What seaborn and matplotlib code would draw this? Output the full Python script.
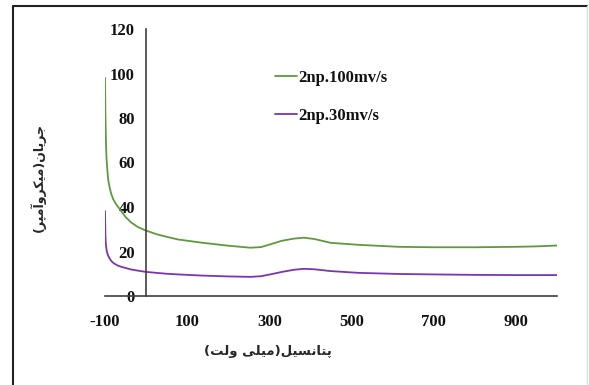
import numpy as np
import pandas as pd
import seaborn as sns
import matplotlib.pyplot as plt
from matplotlib.lines import Line2D

# potential (mV) and current (uA)
potencial = [-100, -99, -98, -97, -96, -94, -92, -89, -85, -80, -74, -68, -60, -50, -36, -20, -3, 25, 50, 78,
             134, 200, 254, 280, 302, 330, 360, 384, 410, 449, 517, 615, 700, 800, 898, 950, 1000]
corriente_100 = [98, 82, 72, 65, 61, 56, 52, 49, 46, 43.5, 41.5, 40, 38, 35.5, 33, 31, 29.6, 27.8, 26.6, 25.4,
                 24.0, 22.6, 21.7, 22.0, 23.2, 24.8, 25.8, 26.2, 25.6, 23.9, 23.0, 22.1, 21.9, 21.9, 22.1, 22.3, 22.7]
corriente_30 = [38.2, 27, 23.5, 21.8, 20.5, 19, 18, 17, 15.8, 14.9, 14.2, 13.6, 13.1, 12.6, 11.9, 11.4, 10.9, 10.4, 10.0, 9.7,
                9.2, 8.8, 8.6, 8.9, 9.7, 10.8, 11.8, 12.2, 12.0, 11.2, 10.4, 9.9, 9.7, 9.5, 9.4, 9.4, 9.4]
series = ['2np.100mv/s', '2np.30mv/s']
colores = ['#5E9A3C', '#7A36B2']
xticks = [-100, 100, 300, 500, 700, 900]
yticks = [0, 20, 40, 60, 80, 100, 120]
xlabel = 'پتانسیل(میلی ولت)'
ylabel = 'جریان(میکروآمپر)'

# formas de presentacion (aislada, final, inicial, media) para dibujar texto persa
FORMAS = {
    'ا': ('\uFE8D', '\uFE8E', None, None),
    'آ': ('\uFE81', '\uFE82', None, None),
    'ر': ('\uFEAD', '\uFEAE', None, None),
    'و': ('\uFEED', '\uFEEE', None, None),
    'پ': ('\uFB56', '\uFB57', '\uFB58', '\uFB59'),
    'ت': ('\uFE95', '\uFE96', '\uFE97', '\uFE98'),
    'ن': ('\uFEE5', '\uFEE6', '\uFEE7', '\uFEE8'),
    'س': ('\uFEB1', '\uFEB2', '\uFEB3', '\uFEB4'),
    'ی': ('\uFBFC', '\uFBFD', '\uFBFE', '\uFBFF'),
    'ل': ('\uFEDD', '\uFEDE', '\uFEDF', '\uFEE0'),
    'م': ('\uFEE1', '\uFEE2', '\uFEE3', '\uFEE4'),
    'ج': ('\uFE9D', '\uFE9E', '\uFE9F', '\uFEA0'),
    'ک': ('\uFB8E', '\uFB8F', '\uFB90', '\uFB91'),
}


def persa(texto):
    out = []
    for i, ch in enumerate(texto):
        if ch not in FORMAS:
            out.append(ch)
            continue
        prev = texto[i - 1] if i > 0 else ''
        nxt = texto[i + 1] if i + 1 < len(texto) else ''
        une_prev = prev in FORMAS and FORMAS[prev][2] is not None
        une_next = nxt in FORMAS and FORMAS[ch][2] is not None
        iso, fin, ini, med = FORMAS[ch]
        if une_prev and une_next:
            out.append(med)
        elif une_prev:
            out.append(fin)
        elif une_next:
            out.append(ini)
        else:
            out.append(iso)
    espejo = {'(': ')', ')': '('}
    return ''.join(espejo.get(c, c) for c in reversed(out))


df = pd.DataFrame({
    'x': potencial * 2,
    'y': corriente_100 + corriente_30,
    'serie': [series[0]] * len(potencial) + [series[1]] * len(potencial),
})

sns.set_style('white')
plt.rcParams['font.family'] = ['Liberation Serif', 'DejaVu Sans']
plt.rcParams['axes.unicode_minus'] = False

fig = plt.figure(figsize=(5.89, 3.85), dpi=100)
ax = fig.add_axes([105 / 589, 89 / 385, 452 / 589, 267 / 385])

sns.lineplot(data=df, x='x', y='y', hue='serie', palette=colores, linewidth=1.3,
             sort=False, estimator=None, ax=ax, legend=False)

ax.set_xlim(-100, 1000)
ax.set_ylim(0, 120)
ax.set_xticks(xticks)
ax.set_yticks(yticks)
ax.spines['left'].set_position(('data', 0))
for s in ['top', 'right']:
    ax.spines[s].set_visible(False)
for s in ['left', 'bottom']:
    ax.spines[s].set_color('#404040')
    ax.spines[s].set_linewidth(1.2)
ax.tick_params(direction='out', length=4, width=1.2, color='#404040', labelcolor='#111111')
for lab in ax.get_xticklabels() + ax.get_yticklabels():
    lab.set_fontweight('bold')
    lab.set_fontsize(12)
ax.tick_params(axis='x', pad=9)
ax.tick_params(axis='y', pad=4)
ax.set_xlabel('')
ax.set_ylabel('')

handles = [Line2D([], [], color=c, lw=1.3) for c in colores]
leg = fig.legend(handles, series, loc='upper left', bbox_to_anchor=(260 / 589, 1 - 55 / 385),
                 frameon=False, handlelength=1.3, handletextpad=0.12, labelspacing=1.3,
                 prop={'family': 'Liberation Serif', 'weight': 'bold', 'size': 12})
for t in leg.get_texts():
    t.set_color('#111111')

fig.text(268 / 589, 1 - 352 / 385, persa(xlabel), ha='center', va='center',
         fontsize=9.5, family='DejaVu Sans', fontweight='bold')
fig.text(38 / 589, 1 - 178 / 385, persa(ylabel), ha='center', va='center', rotation=90,
         fontsize=9, family='DejaVu Sans', fontweight='bold')

# marco de la figura
fig.add_artist(Line2D([13 / 589, 587 / 589], [1 - 6 / 385] * 2, color='#222222', lw=1.5))
fig.add_artist(Line2D([13 / 589] * 2, [0, 1 - 6 / 385], color='#222222', lw=1.5))
fig.add_artist(Line2D([587 / 589] * 2, [0, 1 - 6 / 385], color='#dddddd', lw=1))

plt.savefig('out.png', dpi=100)
